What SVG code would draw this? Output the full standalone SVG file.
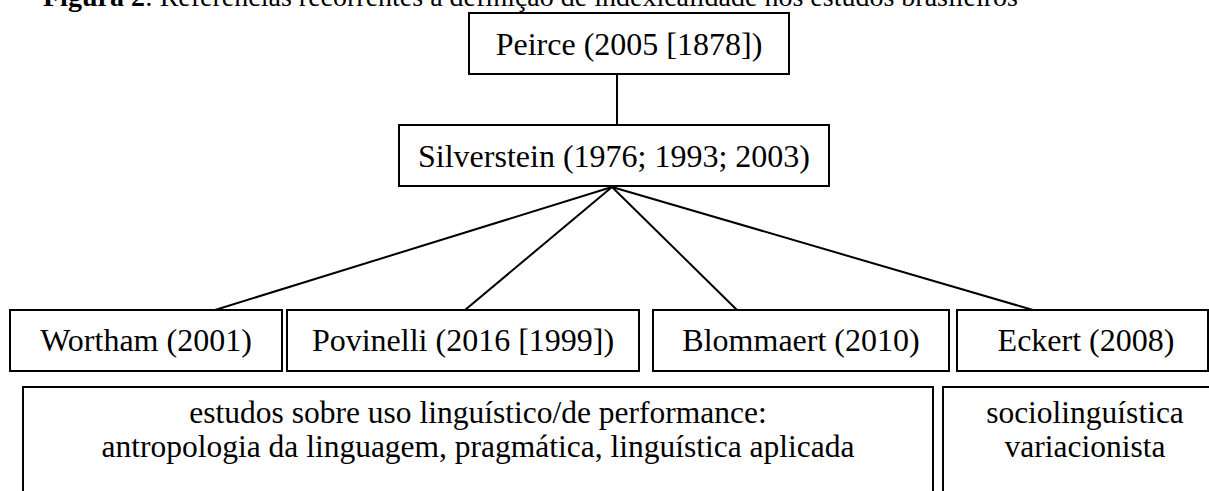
<svg xmlns="http://www.w3.org/2000/svg" width="1209" height="491" viewBox="0 0 1209 491">
<style>
.box{fill:#fff;stroke:#000;stroke-width:2}
.t{font-family:"Liberation Serif","Times New Roman",serif;font-size:32px;fill:#000;text-anchor:middle}
.b{font-family:"Liberation Serif","Times New Roman",serif;font-size:31.5px;fill:#000;text-anchor:middle}
.ttl{font-family:"Liberation Serif","Times New Roman",serif;font-size:28px;fill:#000}
.c{stroke:#000;stroke-width:2;fill:none}
</style>
<rect width="1209" height="491" fill="#fff"/>
<text class="ttl" x="43" y="6"><tspan font-weight="bold">Figura 2</tspan>: Referências recorrentes à definição de indexicalidade nos estudos brasileiros</text>
<g id="connectors">
<line class="c" x1="617" y1="74" x2="617" y2="125"/>
<line class="c" x1="612" y1="187" x2="215" y2="310"/>
<line class="c" x1="612" y1="187" x2="465" y2="310"/>
<line class="c" x1="612" y1="187" x2="737" y2="310"/>
<line class="c" x1="612" y1="187" x2="1033" y2="310"/>
</g>
<g id="peirce"><rect class="box" x="469" y="13" width="320" height="61"/><text class="t" x="629" y="55">Peirce (2005 [1878])</text></g>
<g id="silverstein"><rect class="box" x="399" y="125" width="430" height="61"/><text class="t" x="614" y="167">Silverstein (1976; 1993; 2003)</text></g>
<g id="wortham"><rect class="box" x="10" y="310" width="272" height="61"/><text class="t" x="146" y="351">Wortham (2001)</text></g>
<g id="povinelli"><rect class="box" x="287" y="310" width="352" height="61"/><text class="t" x="463" y="351">Povinelli (2016 [1999])</text></g>
<g id="blommaert"><rect class="box" x="653" y="310" width="296" height="61"/><text class="t" x="801" y="351">Blommaert (2010)</text></g>
<g id="eckert"><rect class="box" x="957" y="310" width="251" height="61"/><text class="t" x="1086" y="351">Eckert (2008)</text></g>
<g id="estudos"><rect class="box" x="23" y="387" width="910" height="120"/><text class="b" x="478" y="423">estudos sobre uso linguístico/de performance:</text><text class="b" x="478" y="457">antropologia da linguagem, pragmática, linguística aplicada</text></g>
<g id="socio"><rect class="box" x="943" y="387" width="280" height="120"/><text class="b" x="1085" y="423">sociolinguística</text><text class="b" x="1085" y="457">variacionista</text></g>
</svg>
